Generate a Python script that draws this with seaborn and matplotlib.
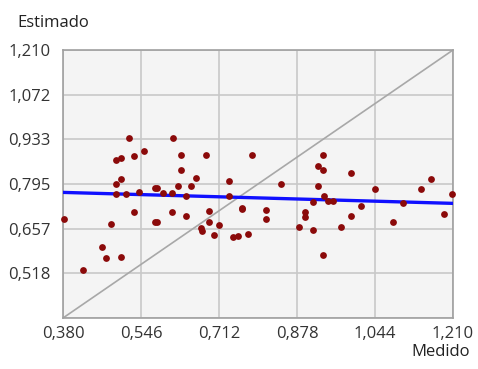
import matplotlib
matplotlib.use("Agg")
import matplotlib.pyplot as plt
import seaborn as sns
import pandas as pd
import numpy as np

medido = [0.520, 0.614, 0.552, 0.531, 0.493, 0.503, 0.631, 0.684, 0.783, 0.631,
          0.663, 0.503, 0.493, 0.576, 0.581, 0.624, 0.652, 0.734, 0.542, 0.592,
          0.613, 0.493, 0.514, 0.642, 0.734, 0.382, 0.532, 0.613, 0.642, 0.691,
          0.762, 0.762, 0.482, 0.576, 0.581, 0.691, 0.713, 0.674, 0.675, 0.702,
          0.741, 0.752, 0.773, 0.464, 0.472, 0.503, 0.422, 0.933, 0.922, 0.933,
          0.993, 0.844, 0.922, 1.043, 1.142, 1.163, 1.208, 0.936, 0.911, 0.943,
          0.954, 1.014, 1.103, 0.812, 0.812, 0.894, 0.894, 0.993, 1.191, 0.883,
          0.911, 0.972, 1.082, 0.933]
estimado = [0.937, 0.937, 0.896, 0.882, 0.869, 0.876, 0.885, 0.885, 0.885, 0.838,
            0.814, 0.810, 0.794, 0.784, 0.784, 0.789, 0.789, 0.804, 0.770, 0.768,
            0.766, 0.763, 0.763, 0.758, 0.759, 0.688, 0.707, 0.707, 0.697, 0.712,
            0.722, 0.717, 0.671, 0.677, 0.677, 0.677, 0.667, 0.660, 0.650, 0.636,
            0.631, 0.635, 0.641, 0.601, 0.565, 0.570, 0.529, 0.886, 0.851, 0.838,
            0.830, 0.794, 0.789, 0.779, 0.779, 0.810, 0.764, 0.759, 0.738, 0.743,
            0.743, 0.727, 0.737, 0.713, 0.687, 0.708, 0.692, 0.697, 0.702, 0.661,
            0.651, 0.661, 0.677, 0.575]

# fitted trend line (as shown in the chart) and identity line
fit_x = [0.380, 1.210]
fit_y = [0.769, 0.735]
ident = [0.380, 1.210]

tick_vals_x = [0.380, 0.546, 0.712, 0.878, 1.044, 1.210]
tick_vals_y = [0.380, 0.518, 0.657, 0.795, 0.933, 1.072, 1.210]
tick_labels_x = ["0,380", "0,546", "0,712", "0,878", "1,044", "1,210"]
tick_labels_y = ["", "0,518", "0,657", "0,795", "0,933", "1,072", "1,210"]

df = pd.DataFrame({"Medido": medido, "Estimado": estimado})

sns.set_style("white")
plt.rcParams['font.family'] = ['Open Sans', 'DejaVu Sans']

fig = plt.figure(figsize=(4.78, 3.69), dpi=100)
ax = fig.add_axes([63/478, 1-318/369, 390/478, 268/369])
ax.set_facecolor("#f4f4f4")

sns.lineplot(x=ident, y=ident, ax=ax, color="#a8a8a8", linewidth=1.2, zorder=2)
sns.scatterplot(data=df, x="Medido", y="Estimado", ax=ax, s=24, color="#8b0a0a",
                linewidth=0, zorder=4, clip_on=False)
sns.lineplot(x=fit_x, y=fit_y, ax=ax, color="#1010ff", linewidth=2.4, zorder=3)

ax.set_xlim(0.380, 1.210)
ax.set_ylim(0.380, 1.210)
ax.set_xticks(tick_vals_x)
ax.set_xticklabels(tick_labels_x)
ax.set_yticks(tick_vals_y)
ax.set_yticklabels(tick_labels_y)
ax.grid(True, color="#c8c8c8", linewidth=1.2, zorder=1)
ax.set_axisbelow(True)
for s in ax.spines.values():
    s.set_color("#a0a0a0")
    s.set_linewidth(1.2)
ax.tick_params(axis="both", length=0, labelsize=12, colors="#333333")
ax.tick_params(axis="x", pad=6)
ax.tick_params(axis="y", pad=9)
ax.set_xlabel("")
ax.set_ylabel("")
fig.text(17/478, 1-23/369, "Estimado", fontsize=12, color="#222222", va="center", ha="left")
fig.text(470/478, 1-352/369, "Medido", fontsize=12, color="#222222", va="center", ha="right")

fig.savefig("out.png", dpi=100, facecolor="white")
